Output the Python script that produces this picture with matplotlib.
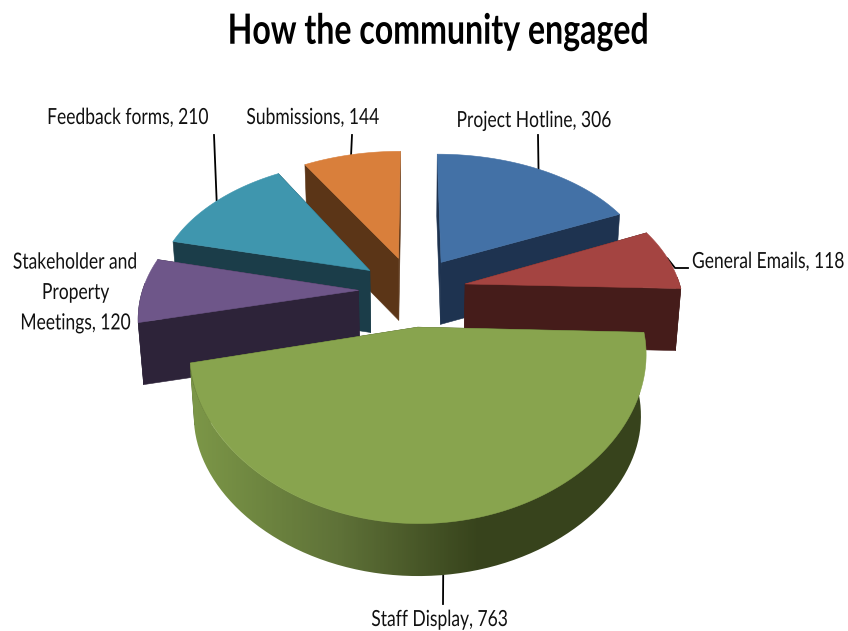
import numpy as np
import matplotlib
matplotlib.use("Agg")
import matplotlib.pyplot as plt
from matplotlib.collections import PolyCollection
from matplotlib.colors import LinearSegmentedColormap
from matplotlib.patches import PathPatch
from matplotlib.path import Path
from matplotlib.patheffects import AbstractPathEffect
from matplotlib.transforms import Affine2D

# sources, clockwise from 12 o'clock
sources = ["Project Hotline", "General Emails", "Staff Display",
           "Stakeholder and\nProperty\nMeetings", "Feedback forms", "Submissions"]
counts = [306, 118, 763, 120, 210, 144]
top_colors = ["#4371A6", "#A44441", "#88A44E", "#6E5689", "#3F96AE", "#D97F3B"]
side_colors = ["#1E3350", "#451C1A", "#37431C", "#2D2339", "#1B3D49", "#5B3517"]
draw_order = [5, 0, 4, 1, 3, 2]

# camera for the tilted pie, all in pixels
CX, CY = 412, 290
RX, RY = 216, 140
PERSP_X, PERSP_Y = 0.16, 0.2
EXPLODE = 0.25


class Narrow(AbstractPathEffect):
    """Squeeze a text line sideways around its own centre, then slide it by dx pixels."""

    def __init__(self, factor, dx=0):
        super().__init__()
        self.factor = factor
        self.dx = dx

    def draw_path(self, renderer, gc, tpath, affine, rgbFace=None):
        ext = tpath.get_extents(affine)
        c = (ext.x0 + ext.x1) / 2
        squeeze = Affine2D().translate(-c, 0).scale(self.factor, 1).translate(c + self.dx, 0)
        renderer.draw_path(gc, tpath, affine + squeeze, rgbFace)


def project(x, y):
    return CX + RX * x / (1 + PERSP_X * y), CY - RY * y / (1 + PERSP_Y * y)


def drop(sx, sy, y):
    # bottom edge of the slab under a top-face point, shallower towards the front
    depth = 62 + 12 * np.minimum(y + 0.5, 0)
    return sx - (sx - CX) * 0.02, sy + depth


fracs = np.array(counts) / sum(counts)
ends = np.cumsum(fracs) * 2 * np.pi
starts = ends - fracs * 2 * np.pi

fig = plt.figure(figsize=(8.48, 6.31), dpi=100)
ax = fig.add_axes([0, 0, 1, 1])


def slice_points(i, theta):
    mid = (starts[i] + ends[i]) / 2
    ox, oy = EXPLODE * np.sin(mid), EXPLODE * np.cos(mid)
    return ox + np.sin(theta), oy + np.cos(theta), ox, oy


def fill(points, color, z):
    ax.add_collection(PolyCollection([points], facecolors=color, edgecolors=color,
                                     linewidths=0.4, zorder=z))


for n, i in enumerate(draw_order):
    z = 2 + n
    theta = np.linspace(starts[i], ends[i], 160)
    x, y, ox, oy = slice_points(i, theta)
    sx, sy = project(x, y)
    ax_, ay_ = project(ox, oy)
    bx, by = drop(sx, sy, y)
    abx, aby = drop(ax_, ay_, oy)

    # the two cut faces
    for k in (0, -1):
        fill([(ax_, ay_), (sx[k], sy[k]), (bx[k], by[k]), (abx, aby)], side_colors[i], z)

    # outer wall on the side facing the viewer
    front = np.cos(theta) < 0.05
    if front.any():
        wall = np.r_[np.column_stack([sx[front], sy[front]]),
                     np.column_stack([bx[front], by[front]])[::-1]]
        if i == 2:
            # the big slice is shaded from light on the left to dark on the right
            cmap = LinearSegmentedColormap.from_list("wall", ["#7B9647", "#5F7238", "#37431C"])
            grad = np.clip((np.linspace(190, 650, 230) - 195) / 285, 0, 1)[None, :]
            im = ax.imshow(grad, cmap=cmap, extent=(190, 650, 590, 330), aspect="auto", zorder=z)
            im.set_clip_path(PathPatch(Path(wall), transform=ax.transData))
        else:
            fill(wall, side_colors[i], z)

    fill(np.column_stack([np.r_[ax_, sx], np.r_[ay_, sy]]), top_colors[i], z + 0.5)

ax.set_xlim(0, 848)
ax.set_ylim(631, 0)
ax.axis("off")

ax.text(438, 32, "How the community engaged", ha="center", va="center",
        fontsize=30, fontweight="bold", family="Lato", color="black", zorder=20,
        path_effects=[Narrow(0.77)])

# anchor x, y, horizontal alignment and slide for each label
label_pos = [(534, 121, "center", 0), (846, 262, "right", 20), (440, 620, "center", 0),
             (1, 293, "left", -5), (128, 118, "center", 0), (313, 118, "center", 0)]
leader_end = [(538, 135), (688, 268), (443, 604), None, (214, 135), (352, 135)]

for i, name in enumerate(sources):
    lx, ly, ha, dx = label_pos[i]
    ax.text(lx, ly, f"{name}, {counts[i]}", ha=ha, va="center", multialignment="center",
            fontsize=16, family="Lato", color="#111111", linespacing=1.65, zorder=20,
            path_effects=[Narrow(0.786, dx)])
    if leader_end[i] is None:
        continue
    mid = (starts[i] + ends[i]) / 2
    x, y, _, _ = slice_points(i, mid)
    px, py = project(x, y)
    if i == 2:
        px, py = drop(px, py, y)
    if i == 1:
        ax.plot([px, 675, leader_end[i][0]], [py, leader_end[i][1], leader_end[i][1]],
                color="black", lw=1.3, zorder=1)
    else:
        ax.plot([px, leader_end[i][0]], [py, leader_end[i][1]], color="black", lw=1.3, zorder=1)

fig.savefig("out.png", dpi=100, facecolor="white")
